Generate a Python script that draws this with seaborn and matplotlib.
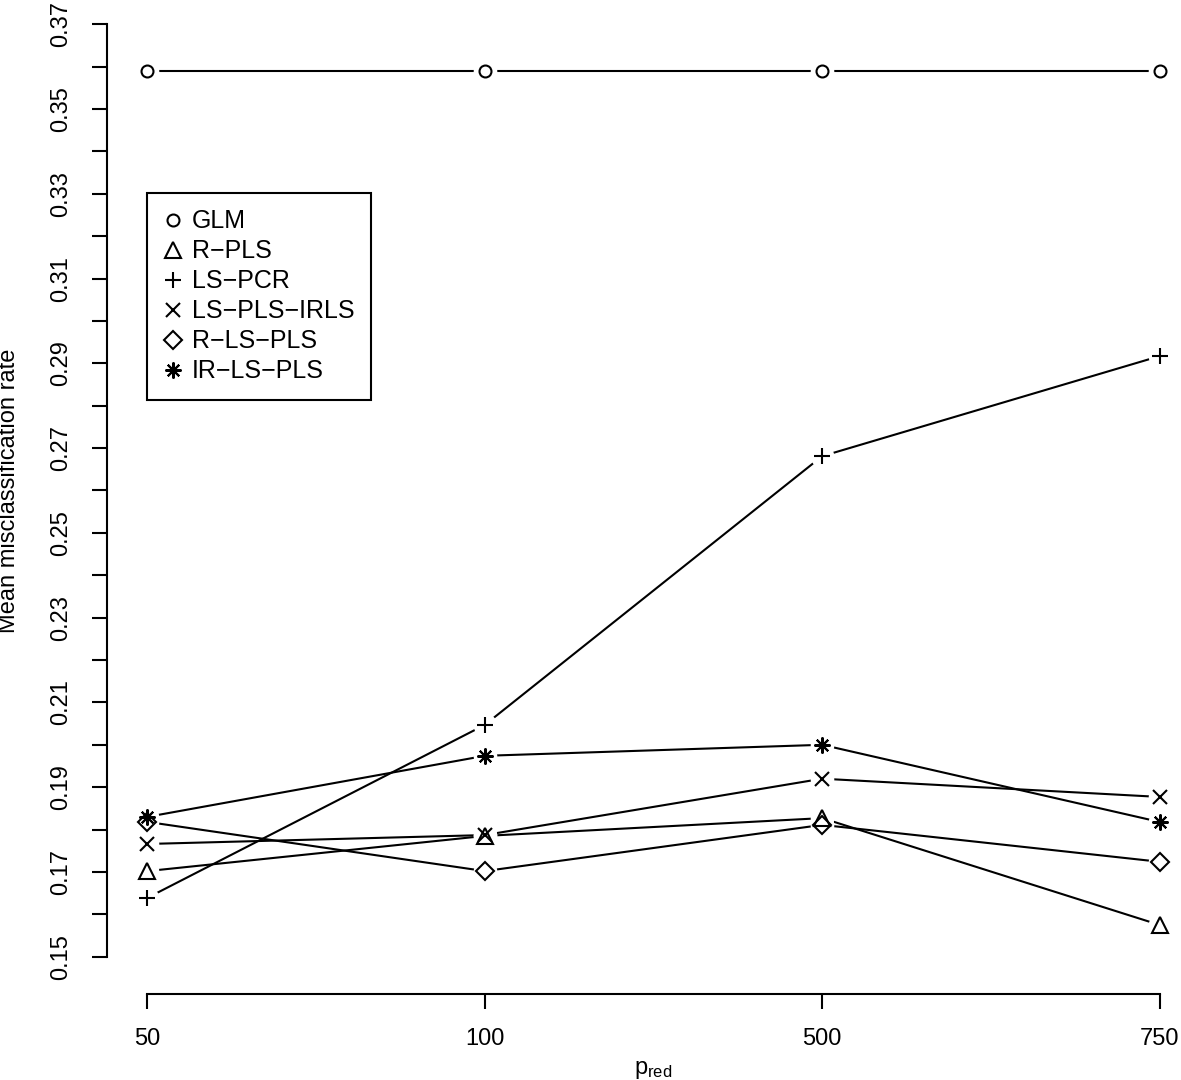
import matplotlib
matplotlib.use("Agg")
import matplotlib.pyplot as plt
import seaborn as sns
from matplotlib.lines import Line2D

# ---- data ----
p_red = ["50", "100", "500", "750"]
methods = ["GLM", "R\u2212PLS", "LS\u2212PCR", "LS\u2212PLS\u2212IRLS", "R\u2212LS\u2212PLS", "IR\u2212LS\u2212PLS"]
glm = [0.359, 0.359, 0.359, 0.359]
r_pls = [0.1702, 0.1785, 0.1827, 0.1575]
ls_pcr = [0.1639, 0.2047, 0.2681, 0.2917]
ls_pls_irls = [0.1766, 0.1787, 0.1920, 0.1877]
r_ls_pls = [0.1818, 0.1702, 0.1811, 0.1724]
ir_ls_pls = [0.1830, 0.1974, 0.2000, 0.1818]

series = [glm, r_pls, ls_pcr, ls_pls_irls, r_ls_pls, ir_ls_pls]
markers = ["o", "^", "+", "x", "D", (8, 2, 0)]
msizes = [8.6, 11, 11.5, 9.4, 8.7, 11.5]

yticks = [round(0.15 + 0.01 * i, 2) for i in range(23)]

# ---- style ----
sns.set_style("ticks")
plt.rcParams["font.family"] = ["Liberation Sans", "DejaVu Sans"]
plt.rcParams["text.color"] = "black"
plt.rcParams["axes.labelcolor"] = "black"
plt.rcParams["xtick.color"] = "black"
plt.rcParams["ytick.color"] = "black"

fig = plt.figure(figsize=(11.81, 10.8), dpi=100)
ax = fig.add_axes([107 / 1181, 86 / 1080, 1093 / 1181, 1007 / 1080])
ax.set_facecolor("white")
fig.patch.set_facecolor("white")

xpos = list(range(len(p_red)))

# lines
for vals in series:
    sns.lineplot(x=xpos, y=vals, ax=ax, color="black", lw=1.5, zorder=2)

# white gaps around points (R type="b")
for vals in series:
    ax.plot(xpos, vals, linestyle="none", marker="o", ms=17,
            mfc="white", mec="none", zorder=3)

# point symbols
for vals, m, s in zip(series, markers, msizes):
    ax.plot(xpos, vals, linestyle="none", marker=m, ms=s,
            mfc="none", mec="black", mew=1.5, zorder=4)

ax.set_xlim(-0.12, 3.12)
ax.set_ylim(0.1412, 0.3788)

ax.set_xticks(xpos)
ax.set_xticklabels(p_red)
ax.set_yticks(yticks)
ax.set_yticklabels([f"{v:.2f}" if i % 2 == 0 else "" for i, v in enumerate(yticks)],
                   rotation=90, va="center")

for s in ["top", "right"]:
    ax.spines[s].set_visible(False)
ax.spines["left"].set_bounds(0.15, 0.37)
ax.spines["bottom"].set_bounds(0, 3)
for s in ["left", "bottom"]:
    ax.spines[s].set_linewidth(1.5)
    ax.spines[s].set_color("black")

ax.tick_params(axis="both", direction="out", length=10.8, width=1.5,
               colors="black", labelcolor="black", labelsize=17, pad=14)

ax.set_ylabel("Mean misclassification rate", fontsize=17, labelpad=22, color="black")
ax.set_xlabel(r"$\mathregular{p_{red}}$", fontsize=17, labelpad=6, color="black")

handles = [Line2D([], [], linestyle="none", marker=m, ms=s, mfc="none",
                  mec="black", mew=1.5) for m, s in zip(markers, msizes)]
leg = ax.legend(handles, methods, loc="upper left",
                bbox_to_anchor=((147 - 107) / 1093, (994 - 193) / 1007),
                borderaxespad=0, fancybox=False, frameon=True, fontsize=18,
                handlelength=0.8, handletextpad=0.35, labelspacing=0.24,
                borderpad=0.65, edgecolor="black")
leg.get_frame().set_linewidth(1.5)
leg.get_frame().set_alpha(1)
for t in leg.get_texts():
    t.set_color("black")

fig.savefig("out.png", dpi=100, facecolor="white")
